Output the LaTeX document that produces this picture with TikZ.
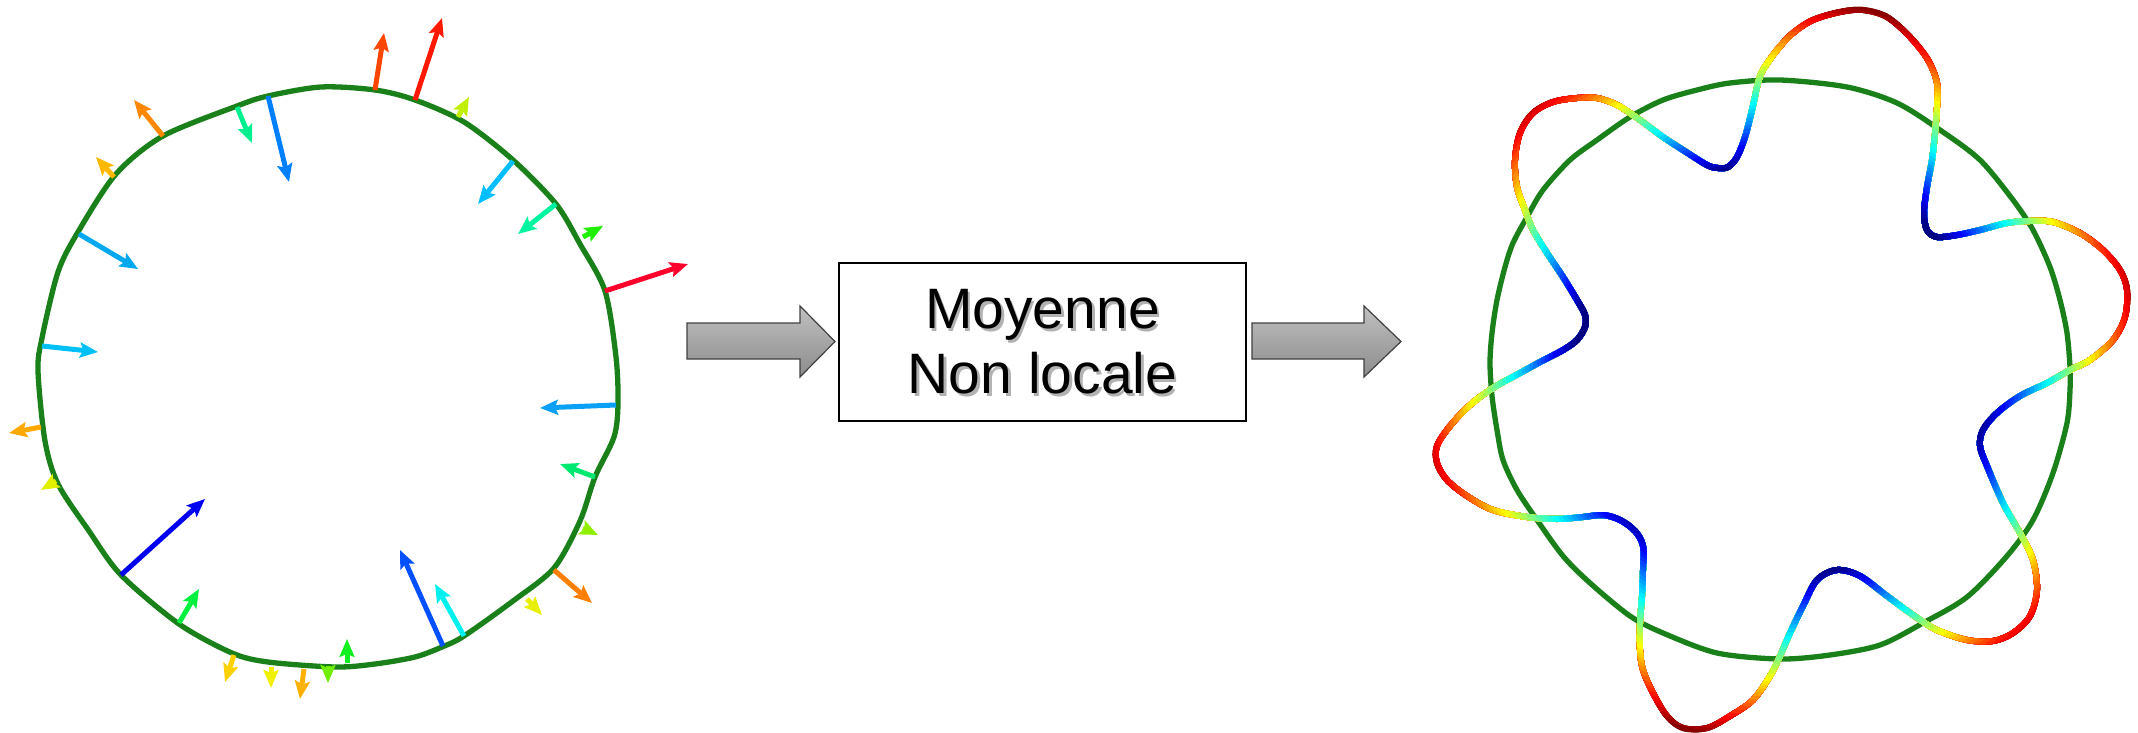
\documentclass[tikz,border=0pt]{standalone}
\usepackage{fontspec}
\setmainfont{Liberation Sans}
\usetikzlibrary{arrows.meta}
\definecolor{curvegreen}{RGB}{26,128,26}
\definecolor{cA}{RGB}{255,70,0}
\definecolor{cB}{RGB}{255,25,0}
\definecolor{cC}{RGB}{192,240,0}
\definecolor{cD}{RGB}{0,190,255}
\definecolor{cE}{RGB}{0,245,160}
\definecolor{cF}{RGB}{30,240,0}
\definecolor{cG}{RGB}{255,0,45}
\definecolor{cH}{RGB}{10,160,245}
\definecolor{cI}{RGB}{0,232,112}
\definecolor{cJ}{RGB}{144,240,0}
\definecolor{cK}{RGB}{255,128,0}
\definecolor{cL}{RGB}{232,240,0}
\definecolor{cM}{RGB}{0,240,240}
\definecolor{cN}{RGB}{0,80,255}
\definecolor{cO}{RGB}{16,240,32}
\definecolor{cP}{RGB}{112,240,0}
\definecolor{cQ}{RGB}{255,176,0}
\definecolor{cR}{RGB}{240,240,0}
\definecolor{cS}{RGB}{255,208,0}
\definecolor{cT}{RGB}{0,240,64}
\definecolor{cU}{RGB}{0,0,240}
\definecolor{cV}{RGB}{224,240,0}
\definecolor{cW}{RGB}{255,168,0}
\definecolor{cX}{RGB}{0,192,248}
\definecolor{cY}{RGB}{0,168,240}
\definecolor{cZ}{RGB}{255,184,0}
\definecolor{ca}{RGB}{255,136,0}
\definecolor{cb}{RGB}{0,240,144}
\definecolor{cc}{RGB}{0,128,255}
\tikzset{
  gcurve/.style={draw=curvegreen, line width=2.65pt, line join=round},
  vec/.style={line width=2.5pt, -{Stealth[length=9pt,width=7.5pt,inset=1.6pt]}},
  blockarrow/.style={top color={rgb,255:red,192;green,192;blue,192}, bottom color={rgb,255:red,140;green,140;blue,140}, draw=black!75, line width=0.6pt, line join=miter},
  procbox/.style={draw=black, line width=1pt, fill=white, minimum width=203.5pt, minimum height=79pt, inner sep=0pt},
  proctext/.style={align=center, font=\fontsize{28.5}{32.5}\selectfont, inner sep=0pt},
  shadowtext/.style={proctext, text=black, opacity=0.3},
  waveline/.style={line width=3pt, line cap=round, line join=round}
}
\newcommand{\wavepath}{plot[smooth cycle, tension=0.55] coordinates {(1640,623) (1642,596) (1643,570) (1643,546) (1635,531) (1620,520) (1603,515) (1583,517) (1557,519) (1527,517) (1493,510) (1467,496) (1447,480) (1437,463) (1437,446) (1450,426) (1470,405) (1493,388) (1520,373) (1540,362) (1563,350) (1577,340) (1585,327) (1585,315) (1577,300) (1563,277) (1547,253) (1533,230) (1525,210) (1517,187) (1515,160) (1520,133) (1533,113) (1553,102) (1577,98) (1597,98) (1617,105) (1640,120) (1663,137) (1683,150) (1707,165) (1718,168) (1728,167) (1737,157) (1745,137) (1752,110) (1758,83) (1763,70) (1777,50) (1793,33) (1813,20) (1840,12) (1863,10) (1887,17) (1910,37) (1928,60) (1937,83) (1937,107) (1935,133) (1932,160) (1927,187) (1924,213) (1927,230) (1937,237) (1957,235) (1980,230) (2007,223) (2030,221) (2053,222) (2080,233) (2103,250) (2120,270) (2127,290) (2125,317) (2113,340) (2090,360) (2070,370) (2047,383) (2020,396) (1997,413) (1983,430) (1980,446) (1987,466) (2003,503) (2020,533) (2033,560) (2037,590) (2030,616) (2013,633) (1993,641) (1967,640) (1937,630) (1913,615) (1887,596) (1860,576) (1837,570) (1817,580) (1803,606) (1790,633) (1780,656) (1770,676) (1753,700) (1730,716) (1707,728) (1683,728) (1667,716) (1653,693) (1643,670) (1640,650)}}
\begin{document}
\begin{tikzpicture}[x=0.5pt,y=-0.5pt]
\useasboundingbox (0,0) rectangle (2138,733);
% left contour
\draw[gcurve] plot[smooth cycle, tension=0.5] coordinates {(321,87) (375,90) (415,100) (464,122) (513,160) (556,204) (580,244) (605,291) (616,357) (618,404) (614,437) (595,477) (580,521) (554,568) (513,601) (464,636) (442,647) (415,657) (375,664) (335,667) (268,662) (232,653) (179,624) (121,575) (89,531) (58,484) (45,441) (38,371) (42,338) (58,272) (78,232) (116,174) (163,136) (237,106) (268,96)};
% vectors
\draw[vec,cA] (375,90) -- (384,33);
\draw[vec,cB] (415,100) -- (442,18);
\draw[vec,cC] (458,117) -- (469,97);
\draw[vec,cD] (513,161) -- (478,204);
\draw[vec,cE] (556,204) -- (518,234);
\draw[vec,cF] (583,237) -- (603,226);
\draw[vec,cG] (605,291) -- (688,264);
\draw[vec,cH] (616,405) -- (540,408);
\draw[vec,cI] (595,477) -- (560,464);
\draw[vec,cJ] (583,528) -- (598,535);
\draw[vec,cK] (554,570) -- (592,603);
\draw[vec,cL] (527,599) -- (542,615);
\draw[vec,cM] (464,636) -- (435,584);
\draw[vec,cN] (443,646) -- (400,550);
\draw[vec,cO] (347,663) -- (347,639);
\draw[vec,cP] (328,666) -- (328,683);
\draw[vec,cQ] (304,669) -- (300,699);
\draw[vec,cR] (271,667) -- (271,688);
\draw[vec,cS] (234,655) -- (225,682);
\draw[vec,cT] (179,623) -- (199,589);
\draw[vec,cU] (121,575) -- (205,499);
\draw[vec,cV] (56,481) -- (41,490);
\draw[vec,cW] (41,427) -- (9,433);
\draw[vec,cX] (42,346) -- (98,352);
\draw[vec,cY] (79,234) -- (138,269);
\draw[vec,cZ] (114,177) -- (96,157);
\draw[vec,ca] (163,136) -- (134,100);
\draw[vec,cb] (237,107) -- (252,143);
\draw[vec,cc] (268,96) -- (289,182);
% process box
\node[procbox] (box) at (1042.5,342) {};
\node[shadowtext] (txtshadow) at (1045,345) {Moyenne\\Non locale};
\node[proctext] (txt) at (box.center) {Moyenne\\Non locale};
% block arrows
\coordinate (inTip) at (835,341.5);
\coordinate (outTip) at (1401,341.5);
\path[blockarrow] (687,323) -- (800,323) -- (800,306) -- (inTip) -- (800,377) -- (800,359) -- (687,359) -- cycle;
\path[blockarrow] (1252,323) -- (1364,323) -- (1364,306) -- (outTip) -- (1364,377) -- (1364,359) -- (1252,359) -- cycle;
% right contour
\draw[gcurve] plot[smooth cycle, tension=0.5] coordinates {(1780,80) (1847,87) (1897,103) (1940,130) (1980,160) (2013,200) (2033,230) (2050,267) (2060,300) (2067,333) (2070,367) (2070,390) (2067,423) (2053,473) (2033,520) (2007,556) (1967,597) (1923,623) (1880,645) (1830,655) (1780,659) (1717,653) (1663,633) (1630,616) (1590,583) (1563,556) (1537,520) (1517,490) (1503,460) (1497,430) (1492,396) (1490,363) (1492,333) (1497,300) (1505,267) (1513,243) (1527,217) (1543,190) (1570,160) (1597,140) (1630,117) (1663,100) (1697,90) (1730,83)};
% wavy smoothed contour, coloured by distance from the centre (jet map)
\coordinate (wc) at (1780,370);
\foreach \k in {49,48,...,0}{
  \pgfmathsetmacro{\rb}{190+3.8*\k+3.8}
  \pgfmathsetmacro{\jt}{max(0,min(1,(\rb-1.9-205)/167))}
  \pgfmathsetmacro{\jR}{max(0,min(1,1.5-abs(4*\jt-3)))}
  \pgfmathsetmacro{\jG}{max(0,min(1,1.5-abs(4*\jt-2)))}
  \pgfmathsetmacro{\jB}{max(0,min(1,1.5-abs(4*\jt-1)))}
  \definecolor{jetc}{rgb}{\jR,\jG,\jB}
  \begin{scope}
    \clip (wc) circle[radius=\rb];
    \draw[waveline, jetc] \wavepath;
  \end{scope}
}
\end{tikzpicture}
\end{document}
